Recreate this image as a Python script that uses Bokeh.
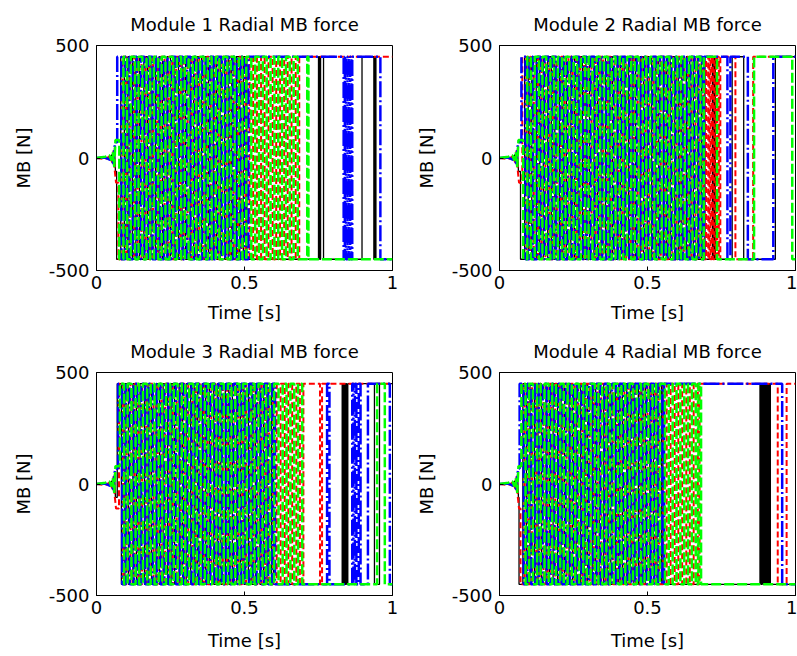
from bokeh.plotting import figure
from bokeh.models import FixedTicker, Range1d
from bokeh.layouts import column, row
from bokeh.embed import file_html
from bokeh.resources import INLINE

# ---------------- data ----------------
titles = ["Module 1 Radial MB force", "Module 2 Radial MB force",
          "Module 3 Radial MB force", "Module 4 Radial MB force"]
x_label = "Time [s]"
y_label = "MB [N]"
x_ticks = [0, 0.5, 1]
x_tick_labels = ["0", "0.5", "1"]
y_ticks = [-500, 0, 500]
y_tick_labels = ["-500", "0", "500"]
t_end = 1.0
saturation = 450  # force limit [N]

# start-up transient (before saturation), per signal
pre_t_k = [0, 0.030, 0.045, 0.052, 0.057, 0.061, 0.064]
pre_v_k = [0, 4, -6, 15, -30, 45, -60]
pre_t_r = [0, 0.030, 0.045, 0.053, 0.058, 0.062, 0.066]
pre_v_r = [0, -5, 8, -20, 35, -60, -110]
pre_t_b = [0, 0.030, 0.046, 0.051, 0.056, 0.060, 0.064]
pre_v_b = [0, 2, -8, 10, -25, 40, 70]
pre_t_g = [0, 0.030, 0.044, 0.050, 0.055, 0.060, 0.064]
pre_v_g = [0, 6, 12, -10, 25, -40, 80]

# switching instants (s) of each saturated signal, and its final level (+1 / -1)
m1_k = [0.068, 0.082, 0.094, 0.106, 0.121, 0.133, 0.145, 0.160, 0.172, 0.184, 0.199, 0.211,
        0.223, 0.238, 0.250, 0.262, 0.277, 0.289, 0.301, 0.316, 0.328, 0.340, 0.355, 0.367,
        0.379, 0.394, 0.406, 0.418, 0.433, 0.445, 0.457, 0.472, 0.484, 0.496, 0.508,
        0.750, 0.754, 0.757, 0.767, 0.897, 0.937, 0.941, 0.944]
m1_k_end = -1
m1_r = [0.074, 0.088, 0.100, 0.113, 0.127, 0.139, 0.152, 0.166, 0.178, 0.191, 0.205, 0.217,
        0.230, 0.244, 0.256, 0.269, 0.283, 0.295, 0.308, 0.322, 0.334, 0.347, 0.361, 0.373,
        0.386, 0.400, 0.412, 0.425, 0.439, 0.451, 0.464, 0.478, 0.490, 0.503, 0.517, 0.529,
        0.542, 0.556, 0.568, 0.581, 0.595, 0.607, 0.620, 0.634, 0.646, 0.659, 0.673, 0.685]
m1_r_end = 1
m1_b = [0.070, 0.084, 0.097, 0.111, 0.123, 0.136, 0.150, 0.162, 0.175, 0.189, 0.201, 0.214,
        0.228, 0.240, 0.253, 0.267, 0.279, 0.292, 0.306, 0.318, 0.331, 0.345, 0.357, 0.370,
        0.384, 0.396, 0.409, 0.423, 0.435, 0.448, 0.462, 0.474, 0.487, 0.501, 0.513,
        0.835, 0.839, 0.843, 0.848, 0.852, 0.857, 0.861, 0.864, 0.959]
m1_b_end = -1
m1_g = [0.077, 0.091, 0.103, 0.116, 0.130, 0.142, 0.155, 0.169, 0.181, 0.194, 0.208, 0.220,
        0.233, 0.247, 0.259, 0.272, 0.286, 0.298, 0.311, 0.325, 0.337, 0.350, 0.364, 0.376,
        0.389, 0.403, 0.415, 0.428, 0.442, 0.454, 0.467, 0.481, 0.493, 0.506, 0.523, 0.536,
        0.549, 0.562, 0.575, 0.588, 0.601, 0.614, 0.627, 0.640, 0.653, 0.666, 0.680,
        0.712, 0.716]
m1_g_end = -1

m2_k = [0.071, 0.085, 0.097, 0.109, 0.124, 0.136, 0.148, 0.163, 0.175, 0.187, 0.202, 0.214,
        0.226, 0.241, 0.253, 0.265, 0.280, 0.292, 0.304, 0.319, 0.331, 0.343, 0.358, 0.370,
        0.382, 0.397, 0.409, 0.421, 0.436, 0.448, 0.460, 0.475, 0.487, 0.499, 0.514, 0.526,
        0.538, 0.553, 0.565, 0.577, 0.592, 0.604, 0.616, 0.631, 0.643, 0.655, 0.670, 0.682,
        0.694, 0.720, 0.723, 0.726, 0.729, 0.786, 0.825, 0.932]
m2_k_end = 1
m2_r = [0.077, 0.091, 0.103, 0.116, 0.130, 0.142, 0.155, 0.169, 0.181, 0.194, 0.208, 0.220,
        0.233, 0.247, 0.259, 0.272, 0.286, 0.298, 0.311, 0.325, 0.337, 0.350, 0.364, 0.376,
        0.389, 0.403, 0.415, 0.428, 0.442, 0.454, 0.467, 0.481, 0.493, 0.506, 0.520, 0.532,
        0.545, 0.559, 0.571, 0.584, 0.598, 0.610, 0.623, 0.637, 0.649, 0.662, 0.676, 0.688,
        0.698, 0.705, 0.709, 0.713, 0.717, 0.721, 0.726, 0.731, 0.736, 0.741, 0.746,
        0.797, 0.857]
m2_r_end = 1
m2_b = [0.074, 0.088, 0.100, 0.113, 0.127, 0.139, 0.152, 0.166, 0.178, 0.191, 0.205, 0.217,
        0.230, 0.244, 0.256, 0.269, 0.283, 0.295, 0.308, 0.322, 0.334, 0.347, 0.361, 0.373,
        0.386, 0.400, 0.412, 0.425, 0.439, 0.451, 0.464, 0.478, 0.490, 0.503, 0.517, 0.529,
        0.542, 0.556, 0.568, 0.581, 0.595, 0.607, 0.620, 0.634, 0.646, 0.659, 0.673, 0.685,
        0.691, 0.770, 0.780, 0.839, 0.925]
m2_b_end = 1
m2_g = [0.080, 0.094, 0.106, 0.119, 0.133, 0.145, 0.158, 0.172, 0.184, 0.197, 0.211, 0.223,
        0.236, 0.250, 0.262, 0.275, 0.289, 0.301, 0.314, 0.328, 0.340, 0.353, 0.367, 0.379,
        0.392, 0.406, 0.418, 0.431, 0.445, 0.457, 0.470, 0.484, 0.496, 0.509, 0.523, 0.535,
        0.548, 0.562, 0.574, 0.587, 0.601, 0.613, 0.626, 0.640, 0.652, 0.665, 0.679, 0.690,
        0.735, 0.860, 0.989]
m2_g_end = -1

m3_k = [0.070, 0.084, 0.096, 0.108, 0.123, 0.135, 0.147, 0.162, 0.174, 0.186, 0.201, 0.213,
        0.225, 0.240, 0.252, 0.264, 0.279, 0.291, 0.303, 0.318, 0.330, 0.342, 0.357, 0.369,
        0.381, 0.396, 0.408, 0.420, 0.435, 0.447, 0.459, 0.474, 0.486, 0.498, 0.513, 0.525,
        0.537, 0.552, 0.564, 0.576, 0.591, 0.598,
        0.830, 0.833, 0.836, 0.839, 0.842, 0.845, 0.849, 0.939, 0.956]
m3_k_end = 1
m3_r = [0.076, 0.090, 0.102, 0.115, 0.129, 0.141, 0.154, 0.168, 0.180, 0.193, 0.207, 0.219,
        0.232, 0.246, 0.258, 0.271, 0.285, 0.297, 0.310, 0.324, 0.336, 0.349, 0.363, 0.375,
        0.388, 0.402, 0.414, 0.427, 0.441, 0.453, 0.466, 0.480, 0.492, 0.505, 0.519, 0.531,
        0.544, 0.558, 0.570, 0.583, 0.597, 0.609, 0.622, 0.636, 0.648, 0.661, 0.675, 0.687,
        0.699, 0.755, 0.762]
m3_r_end = 1
m3_b = [0.073, 0.087, 0.099, 0.112, 0.126, 0.138, 0.151, 0.165, 0.177, 0.190, 0.204, 0.216,
        0.229, 0.243, 0.255, 0.268, 0.282, 0.294, 0.307, 0.321, 0.333, 0.346, 0.360, 0.372,
        0.385, 0.399, 0.411, 0.424, 0.438, 0.450, 0.463, 0.477, 0.489, 0.502, 0.516, 0.528,
        0.541, 0.555, 0.567, 0.580, 0.594, 0.603,
        0.779, 0.787, 0.864, 0.868, 0.873, 0.878, 0.886, 0.892, 0.917, 0.991]
m3_b_end = -1
m3_g = [0.079, 0.093, 0.105, 0.118, 0.132, 0.144, 0.157, 0.171, 0.183, 0.196, 0.210, 0.222,
        0.235, 0.249, 0.261, 0.274, 0.288, 0.300, 0.313, 0.327, 0.339, 0.352, 0.366, 0.378,
        0.391, 0.405, 0.417, 0.430, 0.444, 0.456, 0.469, 0.483, 0.495, 0.508, 0.522, 0.534,
        0.547, 0.561, 0.573, 0.586, 0.600, 0.615, 0.629, 0.642, 0.655, 0.668, 0.681, 0.695,
        0.948, 0.974]
m3_g_end = -1

m4_k = [0.066, 0.079, 0.091, 0.103, 0.118, 0.130, 0.142, 0.157, 0.169, 0.181, 0.196, 0.208,
        0.220, 0.235, 0.247, 0.259, 0.274, 0.286, 0.298, 0.313, 0.325, 0.337, 0.352, 0.364,
        0.376, 0.391, 0.403, 0.415, 0.430, 0.442, 0.454, 0.469, 0.481, 0.493, 0.508, 0.520,
        0.532, 0.547, 0.552,
        0.880, 0.884, 0.887, 0.890, 0.893, 0.896, 0.899, 0.902, 0.905, 0.909, 0.912, 0.915]
m4_k_end = -1
m4_r = [0.071, 0.085, 0.097, 0.110, 0.124, 0.136, 0.149, 0.163, 0.175, 0.188, 0.202, 0.214,
        0.227, 0.241, 0.253, 0.266, 0.280, 0.292, 0.305, 0.319, 0.331, 0.344, 0.358, 0.370,
        0.383, 0.397, 0.409, 0.422, 0.436, 0.448, 0.461, 0.475, 0.487, 0.500, 0.514, 0.526,
        0.539, 0.553, 0.565, 0.578, 0.592, 0.604, 0.617, 0.631, 0.643, 0.656, 0.670, 0.676,
        0.940, 0.970]
m4_r_end = 1
m4_b = [0.068, 0.082, 0.094, 0.107, 0.121, 0.133, 0.146, 0.160, 0.172, 0.185, 0.199, 0.211,
        0.224, 0.238, 0.250, 0.263, 0.277, 0.289, 0.302, 0.316, 0.328, 0.341, 0.355, 0.367,
        0.380, 0.394, 0.406, 0.419, 0.433, 0.445, 0.458, 0.472, 0.484, 0.497, 0.511, 0.523,
        0.536, 0.550, 0.556, 0.955]
m4_b_end = -1
m4_g = [0.074, 0.088, 0.100, 0.113, 0.127, 0.139, 0.152, 0.166, 0.178, 0.191, 0.205, 0.217,
        0.230, 0.244, 0.256, 0.269, 0.283, 0.295, 0.308, 0.322, 0.334, 0.347, 0.361, 0.373,
        0.386, 0.400, 0.412, 0.425, 0.439, 0.451, 0.464, 0.478, 0.490, 0.503, 0.517, 0.529,
        0.542, 0.559, 0.572, 0.585, 0.598, 0.611, 0.624, 0.637, 0.650, 0.663, 0.672, 0.681]
m4_g_end = -1

# ---------------- styling / construction ----------------
FONT = "DejaVu Sans"
STYLE = {
    "k": dict(color="#000000", dash="solid", width=1.3),
    "r": dict(color="#ff0000", dash="6 3", width=2.0),
    "b": dict(color="#0000ff", dash="16 3 2 3", width=2.5),
    "g": dict(color="#00ff00", dash="10 3", width=2.5),
}
PRE = {"k": (pre_t_k, pre_v_k), "r": (pre_t_r, pre_v_r),
       "b": (pre_t_b, pre_v_b), "g": (pre_t_g, pre_v_g)}

modules = [
    {"k": (m1_k, m1_k_end), "r": (m1_r, m1_r_end), "b": (m1_b, m1_b_end), "g": (m1_g, m1_g_end)},
    {"k": (m2_k, m2_k_end), "r": (m2_r, m2_r_end), "b": (m2_b, m2_b_end), "g": (m2_g, m2_g_end)},
    {"k": (m3_k, m3_k_end), "r": (m3_r, m3_r_end), "b": (m3_b, m3_b_end), "g": (m3_g, m3_g_end)},
    {"k": (m4_k, m4_k_end), "r": (m4_r, m4_r_end), "b": (m4_b, m4_b_end), "g": (m4_g, m4_g_end)},
]


def build_trace(pre_t, pre_v, switches, end_level):
    xs = list(pre_t)
    ys = list(pre_v)
    n = len(switches)
    prev = pre_v[-1]
    for i, t in enumerate(switches):
        lvl = end_level * (-1) ** (n - 1 - i) * saturation
        xs += [t, t]
        ys += [prev, lvl]
        prev = lvl
    xs.append(t_end)
    ys.append(prev)
    return xs, ys


def style_axis(ax, ticks):
    ax.ticker = FixedTicker(ticks=ticks)
    ax.axis_line_color = "black"
    ax.axis_line_width = 1
    ax.major_tick_line_color = "black"
    ax.major_tick_in = 4
    ax.major_tick_out = 0
    ax.minor_tick_line_color = None
    ax.major_label_text_font = FONT
    ax.major_label_text_font_size = "18px"
    ax.major_label_text_color = "black"
    ax.axis_label_text_font = FONT
    ax.axis_label_text_font_size = "18px"
    ax.axis_label_text_font_style = "normal"
    ax.axis_label_text_color = "black"


def make_fig(idx, width, height, mb_left, mb_right, mb_top, mb_bottom, xlab_standoff):
    p = figure(width=width, height=height, x_range=Range1d(0, 1),
               y_range=Range1d(-500, 500), output_backend="svg",
               toolbar_location=None, min_border_left=mb_left,
               min_border_right=mb_right, min_border_top=mb_top,
               min_border_bottom=mb_bottom)
    p.title.text = titles[idx]
    p.title.text_font = FONT
    p.title.text_font_size = "18px"
    p.title.text_font_style = "normal"
    p.title.text_color = "black"
    p.title.align = "center"
    p.title.standoff = 22
    p.xgrid.visible = False
    p.ygrid.visible = False
    p.outline_line_color = "black"
    p.outline_line_alpha = 1.0
    p.background_fill_color = "white"
    p.border_fill_color = "white"

    for key in ["k", "r", "b", "g"]:
        sw, end = modules[idx][key]
        xs, ys = build_trace(PRE[key][0], PRE[key][1], sw, end)
        p.line(xs, ys, line_color=STYLE[key]["color"], line_dash=STYLE[key]["dash"],
               line_width=STYLE[key]["width"])

    xax = p.below[0]
    yax = p.left[0]
    xax.axis_label = x_label
    yax.axis_label = y_label
    style_axis(xax, x_ticks)
    style_axis(yax, y_ticks)
    xax.major_label_overrides = dict(zip(x_ticks, x_tick_labels))
    yax.major_label_overrides = dict(zip(y_ticks, y_tick_labels))
    xax.major_label_standoff = 5
    xax.axis_label_standoff = xlab_standoff
    yax.major_label_standoff = 7
    yax.axis_label_standoff = 12
    return p


p1 = make_fig(0, 400, 327, 96, 8, 45, 57, 10)
p2 = make_fig(1, 397, 327, 99, 2, 45, 57, 10)
p3 = make_fig(2, 400, 329, 96, 8, 44, 61, 13)
p4 = make_fig(3, 397, 329, 99, 2, 44, 61, 13)

layout = column(row(p1, p2), row(p3, p4))

open("out.html", "w").write(file_html(layout, INLINE))
